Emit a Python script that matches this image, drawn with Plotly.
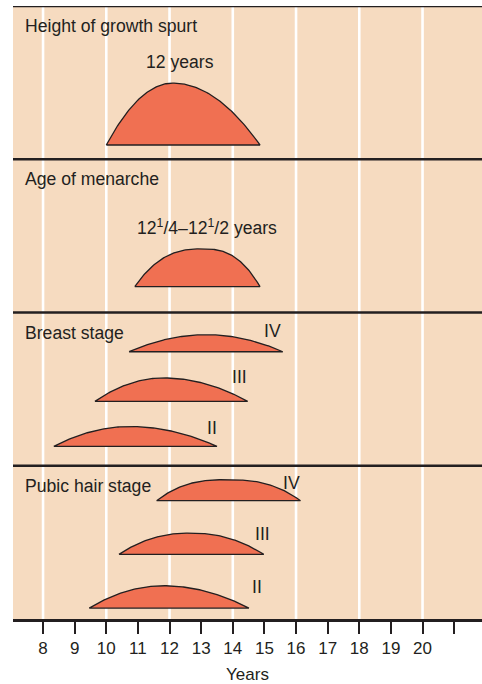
import numpy as np
import plotly.graph_objects as go

# ---- data -------------------------------------------------------------
panel_titles = ["Height of growth spurt", "Age of menarche", "Breast stage", "Pubic hair stage"]

# each event: panel index, label, onset age, age of peak, age of completion
event_panel = [0, 1, 2, 2, 2, 3, 3, 3]
event_label = ["12 years", "12<sup>1</sup>/4\u201312<sup>1</sup>/2 years",
               "IV", "III", "II", "IV", "III", "II"]
event_onset = [10.0, 10.9, 10.72, 9.64, 8.34, 11.59, 10.40, 9.46]
event_peak = [12.1, 13.05, 13.17, 11.80, 10.74, 13.80, 12.64, 11.80]
event_end = [14.86, 14.86, 15.58, 14.47, 13.50, 16.14, 14.98, 14.51]

tick_years = list(range(8, 22))
tick_text = [str(v) if v <= 20 else "" for v in tick_years]
grid_years = [8, 10, 12, 14, 16, 18, 20]

# ---- layout of the bands ------------------------------------------------
N_PANELS = 4
# baseline (fraction of band height from band bottom) and hump height per event
row_base = [0.093, 0.169, 0.744, 0.420, 0.126, 0.772, 0.422, 0.071]
hump_h = [0.404, 0.246, 0.111, 0.153, 0.130, 0.137, 0.139, 0.146]
flatness = [2.0, 2.6, 2.0, 2.0, 2.0, 2.6, 2.2, 2.0]
# label placement: x in years, vertical offset (px) above the baseline
label_x = [12.33, 13.2, 15.25, 14.22, 13.35, 15.86, 14.95, 14.78]
label_dy = [83, 60, 21, 24, 18, 18, 20, 21]

BG = "#f6dbc0"
FILL = "#f07052"
INK = "#231f20"
FONT = "Liberation Sans, Arial, sans-serif"
TXT = 17.6

fig = go.Figure()


def hump(a, p, b, n):
    """Smooth asymmetric hump rising from a, peaking at p, falling to b."""
    xl = np.linspace(a, p, 60)
    xr = np.linspace(p, b, 60)[1:]
    yl = 1 - np.abs((xl - p) / (p - a)) ** n
    yr = 1 - np.abs((xr - p) / (b - p)) ** n
    return np.concatenate([xl, xr]), np.concatenate([yl, yr])


annotations = []
for i in range(len(event_onset)):
    band_bottom = N_PANELS - 1 - event_panel[i]
    base = band_bottom + row_base[i]
    xs, ys = hump(event_onset[i], event_peak[i], event_end[i], flatness[i])
    ys = base + hump_h[i] * ys
    xs = np.concatenate([xs, [event_onset[i]]])
    ys = np.concatenate([ys, [base]])
    fig.add_trace(go.Scatter(
        x=xs, y=ys, mode="lines", fill="toself", fillcolor=FILL,
        line=dict(color=INK, width=1.3), hoverinfo="skip", showlegend=False))
    annotations.append(dict(
        x=label_x[i], y=base, xref="x", yref="y", text=event_label[i],
        showarrow=False, yshift=label_dy[i], xanchor="center", yanchor="middle",
        font=dict(family=FONT, size=TXT, color=INK)))

for k, title in enumerate(panel_titles):
    top = N_PANELS - k
    annotations.append(dict(
        x=7.36, y=top, xref="x", yref="y", text=title, showarrow=False,
        xanchor="left", yanchor="middle", yshift=-20,
        font=dict(family=FONT, size=TXT, color=INK)))

shapes = []
for g in grid_years:
    shapes.append(dict(type="line", xref="x", yref="y", x0=g, x1=g, y0=0, y1=N_PANELS,
                       line=dict(color="white", width=2.6), layer="below"))
for k in range(1, N_PANELS + 1):
    shapes.append(dict(type="line", xref="paper", yref="y", x0=0, x1=1, y0=k, y1=k,
                       line=dict(color=INK, width=2.6)))

fig.update_layout(
    width=482, height=684,
    margin=dict(l=13, r=0, t=6, b=65),
    paper_bgcolor="white", plot_bgcolor=BG,
    showlegend=False,
    shapes=shapes, annotations=annotations,
    xaxis=dict(
        range=[7.05, 21.88], tickvals=tick_years, ticktext=tick_text,
        ticks="outside", ticklen=12, tickwidth=2, tickcolor=INK,
        showgrid=False, zeroline=False, showline=True, linecolor=INK, linewidth=2.6,
        tickfont=dict(family=FONT, size=17, color=INK),
        title=dict(text="Years", font=dict(family=FONT, size=17, color=INK), standoff=11),
        fixedrange=True),
    yaxis=dict(range=[0, N_PANELS], showgrid=False, zeroline=False, showticklabels=False,
               showline=False, fixedrange=True),
)

fig.write_html("out.html")
